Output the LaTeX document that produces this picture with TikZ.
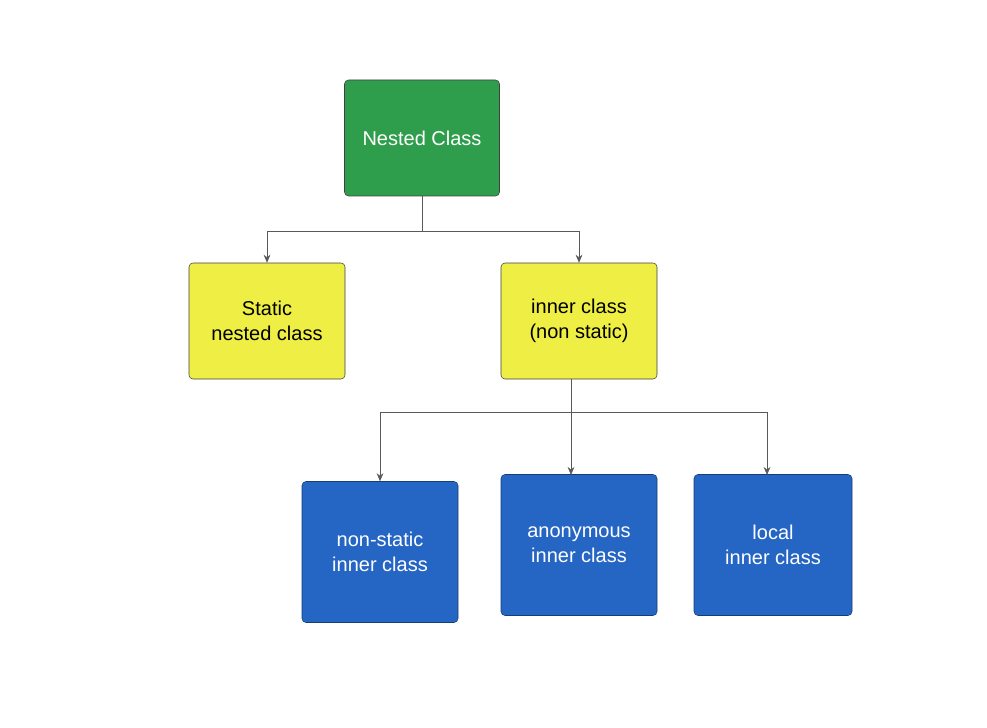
\documentclass[tikz,border=0pt]{standalone}
\usepackage{fontspec}
\setmainfont{Liberation Sans}
\usetikzlibrary{arrows.meta,positioning}
\definecolor{nestgreen}{HTML}{2E9E4D}
\definecolor{boxyellow}{HTML}{EEEE44}
\definecolor{boxblue}{HTML}{2565C4}
\begin{document}
\begin{tikzpicture}[x=0.75pt,y=-0.75pt,
  box/.style={draw=black!75, rounded corners=3pt, thin, align=center,
    inner sep=0pt, font=\fontsize{15}{19}\selectfont},
  conn/.style={draw=black!65, thin, -{Stealth[length=6pt,width=5pt]}}]
  \useasboundingbox (0,0) rectangle (987,727);
  % top level
  \node[box, fill=nestgreen, text=white, minimum width=155*0.75pt, minimum height=116*0.75pt]
    (nested) at (422,138) {Nested Class};
  % second level
  \node[box, fill=boxyellow, minimum width=156*0.75pt, minimum height=116*0.75pt]
    (static) at (267,321) {Static\\nested class};
  \node[box, fill=boxyellow, minimum width=156*0.75pt, minimum height=116*0.75pt]
    (inner) at (579,321) {inner class\\(non static)};
  % third level
  \node[box, draw=boxblue!60!black, fill=boxblue, text=white, minimum width=156*0.75pt, minimum height=141*0.75pt]
    (nonstatic) at (380,552) {non-static\\inner class};
  \node[box, draw=boxblue!60!black, fill=boxblue, text=white, minimum width=156*0.75pt, minimum height=141*0.75pt]
    (anon) at (579,545) {anonymous\\inner class};
  \node[box, draw=boxblue!60!black, fill=boxblue, text=white, minimum width=158*0.75pt, minimum height=141*0.75pt]
    (local) at (773,545) {local\\inner class};
  % connectors
  \draw[conn] (nested.south) |- (267,231) -- (static.north);
  \draw[conn] (nested.south) |- (579,231) -- (inner.north);
  \draw[conn] (571,379) |- (380,412) -- (nonstatic.north);
  \draw[conn] (571,379) -- (571,475);
  \draw[conn] (571,379) |- (767,412) -- (767,475);
\end{tikzpicture}
\end{document}
